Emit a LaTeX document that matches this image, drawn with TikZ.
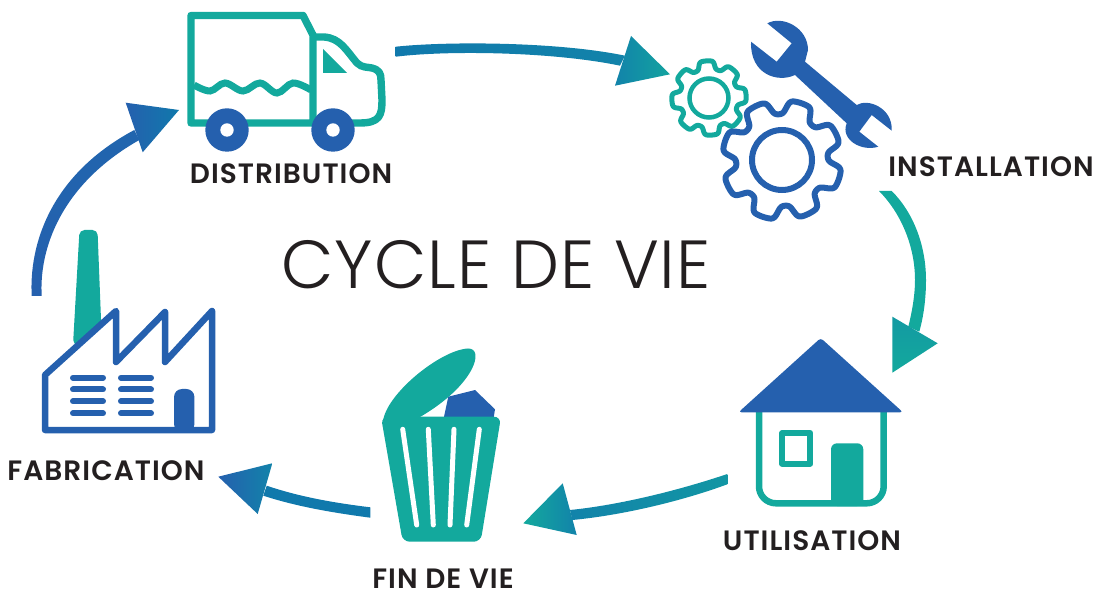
\documentclass[tikz,border=0pt]{standalone}
\usepackage{fontspec}
\newfontfamily\titlefont[LetterSpace=1.5]{Poppins Light}
\newfontfamily\labelfont[LetterSpace=3.7]{Poppins SemiBold}
\definecolor{cycteal}{HTML}{13A99D}
\definecolor{cycblue}{HTML}{2560AE}
\definecolor{cycmid}{HTML}{1079AC}
\definecolor{cycsea}{HTML}{1283AA}
\definecolor{cycink}{HTML}{231F20}
\tikzset{
  steplabel/.style={text=cycink, font=\labelfont\fontsize{28}{28}\selectfont, inner sep=0pt},
  tealline/.style={draw=cycteal, line width=7.4pt, line join=round},
  blueline/.style={draw=cycblue, line width=6.5pt, line join=round},
  barline/.style={draw=cycblue, line width=6pt, line cap=round},
  slotline/.style={draw=white, line width=5pt, line cap=round},
}
\newcommand{\cogwheel}[7]{
  \draw[draw=#6, line width=#5pt, line join=round] plot[domain=0:360, samples=361]
    ({#1+(#3+#4*tanh(2.2*(cos(8*(\x-#7))+0.35)))*cos(\x)},
     {#2-(#3+#4*tanh(2.2*(cos(8*(\x-#7))+0.35)))*sin(\x)}) -- cycle;}
\begin{document}
\begin{tikzpicture}[x=1pt, y=-1pt]
  \useasboundingbox (0, 0) rectangle (1103, 593);
  % arrow ends
  \coordinate (distA) at (395.7, 46.7); \coordinate (distB) at (395.7, 56.7);
  \coordinate (gearA) at (625, 55.7); \coordinate (gearB) at (620, 65.7);
  \coordinate (gearC) at (631, 36); \coordinate (gearTip) at (670, 74.3); \coordinate (gearD) at (615, 85.7);
  \coordinate (instA) at (879, 191); \coordinate (instB) at (891.7, 191);
  \coordinate (homeA) at (908.3, 326.7); \coordinate (homeB) at (919.3, 331.7);
  \coordinate (homeC) at (892.3, 316.7); \coordinate (homeTip) at (937.7, 343.3); \coordinate (homeD) at (892.3, 372.7);
  \coordinate (utilA) at (727.3, 474); \coordinate (utilB) at (727.3, 484.3);
  \coordinate (binA) at (570, 510); \coordinate (binB) at (572.3, 520);
  \coordinate (binC) at (562.7, 483.3); \coordinate (binTip) at (523.3, 523.3); \coordinate (binD) at (576.7, 535);
  \coordinate (finA) at (370.3, 507.3); \coordinate (finB) at (370.3, 517.7);
  \coordinate (fabA) at (266.7, 485.7); \coordinate (fabB) at (263.3, 495.7);
  \coordinate (fabC) at (272.3, 463.3); \coordinate (fabTip) at (218.3, 476.7); \coordinate (fabD) at (257.7, 514);
  \coordinate (plantA) at (31.7, 296); \coordinate (plantB) at (41.7, 296);
  \coordinate (truckA) at (134.3, 130); \coordinate (truckB) at (139.3, 140);
  \coordinate (truckC) at (125.7, 102.7); \coordinate (truckTip) at (179, 110); \coordinate (truckD) at (142.7, 152.3);

  % arrows
  \shade[left color=cycmid, right color=cycsea] (distA) .. controls (450, 41) and (560, 42) .. (gearA) -- (gearB)
      .. controls (555, 52) and (450, 50) .. (distB) -- cycle;
  \shade[left color=cycsea, right color=cycteal!85!cycsea] (gearC) -- (gearTip) -- (gearD) -- cycle;
  \fill[cycteal] (instA) .. controls (900, 212) and (915, 245) .. (915, 280) .. controls (915, 295) and (912, 312) .. (homeA) -- (homeB)
      .. controls (924, 315) and (926, 297) .. (926, 280) .. controls (926, 245) and (913, 212) .. (instB) -- cycle;
  \shade[top color=cycsea!40!cycteal, bottom color=cycteal] (homeC) -- (homeTip) -- (homeD) -- cycle;
  \shade[left color=cycsea, right color=cycsea!50!cycteal] (binA) -- (binB) .. controls (625, 515) and (685, 500) .. (utilB) -- (utilA)
      .. controls (680, 490) and (620, 505) .. (binA) -- cycle;
  \shade[left color=cycteal, right color=cycsea] (binC) -- (binTip) -- (binD) -- cycle;
  \fill[cycmid] (finA) .. controls (335, 503) and (300, 497) .. (fabA) -- (fabB) .. controls (298, 507) and (335, 513) .. (finB) -- cycle;
  \shade[left color=cycblue, right color=cycsea] (fabC) -- (fabTip) -- (fabD) -- cycle;
  \shade[bottom color=cycblue, top color=cycblue!80!cycmid] (plantA) .. controls (29, 245) and (50, 175) .. (truckA) -- (truckB)
      .. controls (60, 185) and (39, 250) .. (plantB) -- cycle;
  \shade[left color=cycblue, right color=cycmid] (truckC) -- (truckTip) -- (truckD) -- cycle;

  % truck
  \draw[tealline] (191, 123) -- (191, 15.5) -- (303, 15.5) -- (313, 35) -- (313, 123) -- cycle;
  \draw[tealline] (313, 37) -- (324, 37) .. controls (340, 38) and (346, 50) .. (357, 63) .. controls (362, 68) and (368, 67) .. (372, 68)
      .. controls (379, 70) and (381, 73) .. (381, 80) -- (382, 100) .. controls (382, 115) and (380, 123) .. (360, 123) -- (340, 123);
  \fill[cycteal] (323, 49) -- (347, 73) -- (323, 73) -- cycle;
  \draw[draw=cycteal, line width=7pt] plot[smooth, tension=0.6] coordinates {(194, 85) (210, 91) (225, 83) (243, 91) (260, 83) (277, 93) (293, 83) (311, 90)};
  \fill[cycblue] (227, 130) circle (21.7) (333, 130) circle (21.7);
  \fill[white] (227, 130) circle (6.7) (333, 130) circle (6.7);

  % gears
  \cogwheel{709}{98}{33}{4.2}{5}{cycteal}{4}
  \draw[draw=cycteal, line width=4.5pt] (709, 98) circle (19.5);
  \cogwheel{782}{160}{52.5}{7.5}{6}{cycblue}{26.5}
  \draw[draw=cycblue, line width=6pt] (782, 160) circle (30);
  % wrench
  \fill[cycblue] (767.3, 23.3) .. controls (783, 15) and (808, 28) .. (808, 50) -- (805, 61.7) -- (856.7, 105)
      .. controls (868, 98) and (893, 108) .. (891.7, 130.7) -- (871.7, 115) -- (859.3, 131.7) -- (878.3, 146.7)
      .. controls (862, 152) and (840, 140) .. (846.7, 123.3) -- (795, 75) .. controls (778, 83) and (750, 75) .. (751, 41.7)
      -- (776.7, 61.7) -- (791.7, 43.3) -- cycle;

  % factory
  \fill[cycteal, rounded corners=5pt] (73, 345) -- (79.5, 230) -- (97.5, 230) -- (102, 345) -- cycle;
  \draw[blueline, fill=white] (45, 430) -- (45, 375) -- (116, 311) -- (116, 362) -- (165, 312) -- (165, 362) -- (212, 311) -- (212, 430) -- cycle;
  \foreach \y in {377.7, 389.5, 401.3, 413.3}
    \draw[barline] (73, \y) -- (103, \y) (121, \y) -- (151, \y);
  \fill[cycblue, rounded corners=8pt] (174, 432) -- (174, 389) -- (194.4, 389) -- (194.4, 432) -- cycle;

  % bin
  \fill[cycblue] (448.3, 396.7) -- (475, 390) -- (495, 409.3) -- (493.3, 420) -- (443.3, 420) -- cycle;
  \fill[cycteal] (383, 422) .. controls (385, 395) and (440, 350) .. (468, 348.5) .. controls (485, 348) and (475, 385) .. (420, 417) -- cycle;
  \fill[cycteal, rounded corners=7pt] (381, 416.7) -- (501, 416.7) -- (480.7, 541.7) -- (402.7, 541.7) -- cycle;
  \draw[slotline] (402.7, 429.3) -- (416.7, 525) (428.3, 429.3) -- (433.3, 525) (454, 429.3) -- (450, 525) (479.3, 429.3) -- (466.7, 525);

  % house
  \draw[tealline, line width=6.5pt, rounded corners=17pt] (759, 405) -- (759, 503.3) -- (883.7, 503.3) -- (883.7, 405);
  \draw[tealline, line width=6pt] (782.3, 433) rectangle (810.3, 463.7);
  \fill[cycteal, rounded corners=6pt] (831, 506) -- (831, 443.3) -- (863.3, 443.3) -- (863.3, 506) -- cycle;
  \fill[cycblue, rounded corners=3pt] (820.7, 338) -- (903, 412.3) -- (738.5, 412.3) -- cycle;

  \node[steplabel] (distribution) at (291, 174) {DISTRIBUTION};
  \node[steplabel] (installation) at (991, 167) {INSTALLATION};
  \node[steplabel] (utilisation) at (812, 541) {UTILISATION};
  \node[steplabel] (findevie) at (443, 579) {FIN DE VIE};
  \node[steplabel] (fabrication) at (106, 471) {FABRICATION};
  \node[text=cycink, font=\titlefont\fontsize{68}{68}\selectfont, inner sep=0pt] (cycle) at (496, 265) {CYCLE DE VIE};
\end{tikzpicture}
\end{document}
